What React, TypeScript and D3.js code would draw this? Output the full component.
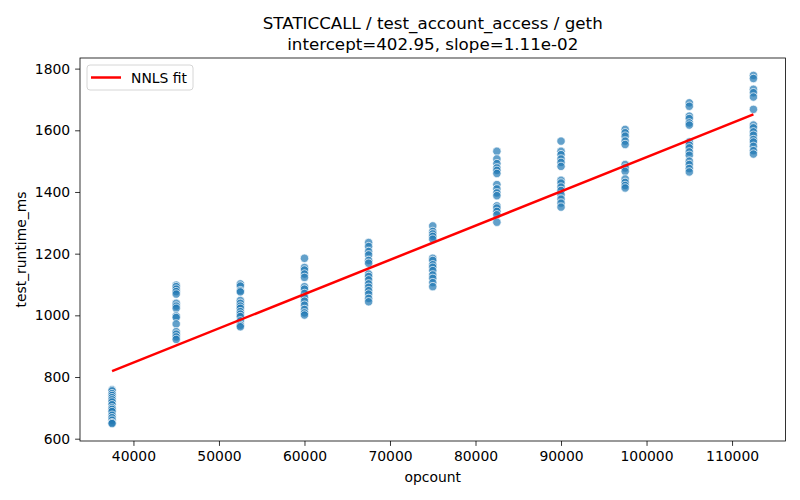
import { useEffect, useRef } from "react";
import * as d3 from "d3";

// opcount values of the measured groups
const opcounts = [37500, 45000, 52500, 60000, 67500, 75000, 82500, 90000, 97500, 105000, 112500];

// runtime samples (ms) for each opcount group
const runtimes: number[][] = [
  [759, 755, 746, 740, 733, 726, 719, 710, 700, 695, 688, 676, 668, 660, 652, 649],
  [1098, 1093, 1085, 1077, 1069, 1039, 1030, 1023, 998, 993, 972, 947, 939, 930, 922],
  [1102, 1095, 1080, 1076, 1048, 1039, 1030, 1023, 1012, 1004, 996, 982, 968, 963],
  [1185, 1155, 1147, 1134, 1123, 1093, 1085, 1071, 1058, 1046, 1033, 1019, 1008, 1001],
  [1236, 1223, 1207, 1196, 1178, 1169, 1134, 1126, 1115, 1102, 1091, 1080, 1069, 1055, 1044],
  [1290, 1272, 1264, 1256, 1247, 1185, 1178, 1164, 1156, 1145, 1131, 1120, 1106, 1093],
  [1532, 1507, 1492, 1478, 1470, 1460, 1424, 1410, 1397, 1388, 1355, 1348, 1337, 1326, 1302],
  [1565, 1532, 1521, 1507, 1496, 1483, 1438, 1429, 1416, 1405, 1391, 1377, 1364, 1351],
  [1603, 1592, 1581, 1565, 1554, 1489, 1478, 1467, 1442, 1431, 1421, 1413],
  [1689, 1678, 1646, 1638, 1624, 1617, 1562, 1552, 1543, 1530, 1519, 1500, 1489, 1476, 1465],
  [1778, 1768, 1733, 1722, 1708, 1668, 1617, 1608, 1595, 1584, 1570, 1562, 1548, 1534, 1523],
];

// fit parameters from the title
const intercept = 402.95;
const slope = 1.11e-2;

const xTicks = [40000, 50000, 60000, 70000, 80000, 90000, 100000, 110000];
const yTicks = [600, 800, 1000, 1200, 1400, 1600, 1800];

// python-style "%.2e" (two digit exponent)
const fmtExp = (v: number) => {
  const [m, e] = v.toExponential(2).split("e");
  const n = Math.abs(+e);
  return `${m}e${+e < 0 ? "-" : "+"}${n < 10 ? "0" : ""}${n}`;
};

const App = () => {
  const chartRef = useRef(null);

  useEffect(() => {
    document.body.style.margin = "0";
    d3.select(chartRef.current).select("svg").remove();

    const W = 800;
    const H = 500;
    const margin = { top: 58, right: 14.5, bottom: 59, left: 80 };
    const width = W - margin.left - margin.right;
    const height = H - margin.top - margin.bottom;
    const font = "DejaVu Sans, sans-serif";

    const data = opcounts.flatMap((x, i) => runtimes[i].map((y) => ({ x, y })));

    const svg = d3
      .select(chartRef.current)
      .append("svg")
      .attr("width", W)
      .attr("height", H)
      .style("display", "block");

    svg.append("rect").attr("width", W).attr("height", H).attr("fill", "#fff");

    const g = svg
      .append("g")
      .attr("transform", `translate(${margin.left}, ${margin.top})`);

    // matplotlib-like 5% margins
    const [x0, x1] = d3.extent(data, (d) => d.x) as [number, number];
    const [y0, y1] = d3.extent(data, (d) => d.y) as [number, number];
    const px = (x1 - x0) * 0.05;
    const py = (y1 - y0) * 0.05;

    const xScale = d3.scaleLinear().domain([x0 - px, x1 + px]).range([0, width]);
    const yScale = d3.scaleLinear().domain([y0 - py, y1 + py]).range([height, 0]);

    // points
    g.append("g")
      .selectAll("circle")
      .data(data)
      .join("circle")
      .attr("cx", (d) => xScale(d.x))
      .attr("cy", (d) => yScale(d.y))
      .attr("r", 4.2)
      .attr("fill", "#1f77b4")
      .attr("fill-opacity", 0.7)
      .attr("stroke", "#fff")
      .attr("stroke-width", 0.7);

    // fit line
    const line: any = d3
      .line()
      .x((d: any) => xScale(d))
      .y((d: any) => yScale(intercept + slope * d));

    g.append("path")
      .datum([x0, x1])
      .attr("fill", "none")
      .attr("stroke", "red")
      .attr("stroke-width", 2.5)
      .attr("d", line);

    // axes
    const xAxis = d3
      .axisBottom(xScale)
      .tickValues(xTicks)
      .tickSize(4.9)
      .tickPadding(4.9)
      .tickFormat((d) => `${d}`);
    const yAxis = d3
      .axisLeft(yScale)
      .tickValues(yTicks)
      .tickSize(4.9)
      .tickPadding(4.9)
      .tickFormat((d) => `${d}`);

    const xg = g.append("g").attr("transform", `translate(0, ${height})`).call(xAxis);
    const yg = g.append("g").call(yAxis);
    [xg, yg].forEach((a) => {
      a.select(".domain").remove();
      a.selectAll("line").attr("stroke", "#000").attr("stroke-width", 0.8);
      a.selectAll("text")
        .attr("fill", "#000")
        .attr("font-family", font)
        .attr("font-size", "13.9px");
    });

    // frame
    g.append("rect")
      .attr("width", width)
      .attr("height", height)
      .attr("fill", "none")
      .attr("stroke", "#000")
      .attr("stroke-width", 0.8);

    // legend
    const legend = g.append("g").attr("transform", "translate(7, 7)");
    legend
      .append("rect")
      .attr("width", 106)
      .attr("height", 25)
      .attr("rx", 3)
      .attr("fill", "#fff")
      .attr("fill-opacity", 0.8)
      .attr("stroke", "#ccc")
      .attr("stroke-width", 0.8);
    legend
      .append("line")
      .attr("x1", 4)
      .attr("x2", 34)
      .attr("y1", 12.5)
      .attr("y2", 12.5)
      .attr("stroke", "red")
      .attr("stroke-width", 2.5);
    legend
      .append("text")
      .attr("x", 44)
      .attr("y", 17.5)
      .attr("font-family", font)
      .attr("font-size", "13.9px")
      .text("NNLS fit");

    // titles and labels
    const cx = margin.left + width / 2;
    svg
      .append("text")
      .attr("x", cx)
      .attr("y", 29)
      .attr("text-anchor", "middle")
      .attr("font-family", font)
      .attr("font-size", "16.7px")
      .text("STATICCALL / test_account_access / geth");
    svg
      .append("text")
      .attr("x", cx)
      .attr("y", 50)
      .attr("text-anchor", "middle")
      .attr("font-family", font)
      .attr("font-size", "16.7px")
      .text(`intercept=${intercept.toFixed(2)}, slope=${fmtExp(slope)}`);
    svg
      .append("text")
      .attr("x", cx)
      .attr("y", 482)
      .attr("text-anchor", "middle")
      .attr("font-family", font)
      .attr("font-size", "13.9px")
      .text("opcount");
    svg
      .append("text")
      .attr("transform", `translate(26, ${margin.top + height / 2}) rotate(-90)`)
      .attr("text-anchor", "middle")
      .attr("font-family", font)
      .attr("font-size", "13.9px")
      .text("test_runtime_ms");

    return () => {
      d3.select(chartRef.current).select("svg").remove();
    };
  }, []);

  return <div ref={chartRef} style={{ width: 800, height: 500 }}></div>;
};

export default App;
